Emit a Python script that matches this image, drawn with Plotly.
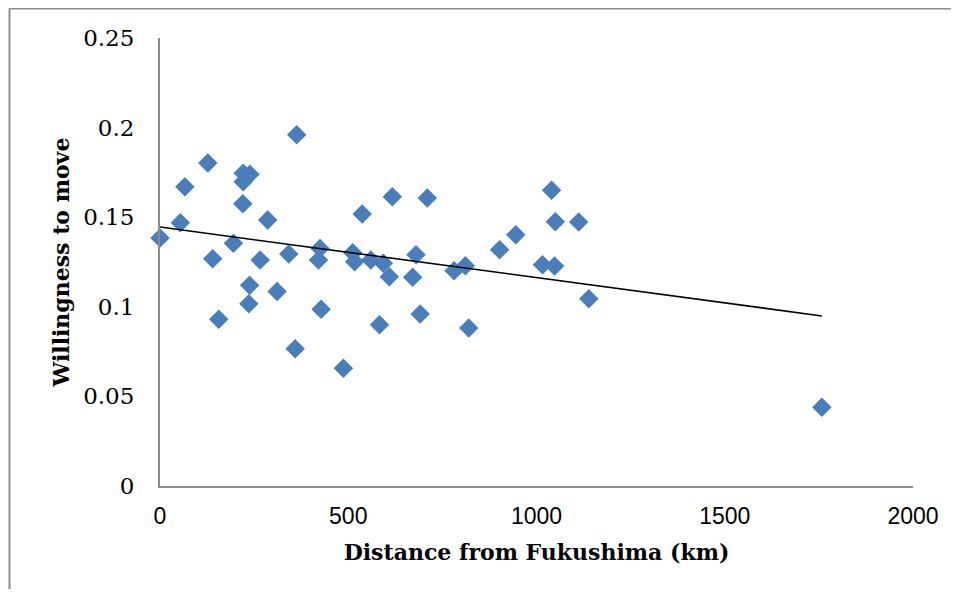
import plotly.graph_objects as go

# Distance from Fukushima (km)
distance_km = [0, 54, 66, 127, 140, 156, 195, 220, 221, 239, 221, 238, 236, 266,
               286, 311, 342, 363, 359, 425, 421, 428, 487, 512, 517, 537, 560,
               583, 593, 609, 617, 671, 680, 691, 710, 781, 811, 820, 902, 945,
               1016, 1040, 1048, 1050, 1112, 1139, 1758]
# Willingness to move
willingness = [0.1384, 0.1469, 0.1670, 0.1802, 0.1268, 0.0930, 0.1354, 0.1575,
               0.1745, 0.1739, 0.1698, 0.1120, 0.1017, 0.1261, 0.1484, 0.1086,
               0.1295, 0.1960, 0.0766, 0.1326, 0.1261, 0.0986, 0.0657, 0.1302,
               0.1252, 0.1518, 0.1261, 0.0900, 0.1243, 0.1168, 0.1614, 0.1165,
               0.1291, 0.0960, 0.1607, 0.1201, 0.1229, 0.0882, 0.1319, 0.1402,
               0.1235, 0.1650, 0.1228, 0.1475, 0.1473, 0.1045, 0.0439]

# Linear trend line end points (as drawn in the chart)
trend_x = [0, 1758]
trend_y = [0.1445, 0.0949]

x_ticks = [0, 500, 1000, 1500, 2000]
y_ticks = [0, 0.05, 0.1, 0.15, 0.2, 0.25]
y_tick_labels = ["0", "0.05", "0.1", "0.15", "0.2", "0.25"]

# page has an 8px body margin on every side, so the figure is drawn smaller
W, H = 943, 581
L, R, T, B = 152, 38, 30, 103

fig = go.Figure()
fig.add_trace(go.Scatter(
    x=distance_km, y=willingness, mode="markers",
    marker=dict(symbol="diamond", size=15, color="#4A7EBB", line=dict(width=0)),
    showlegend=False, cliponaxis=False,
))
fig.add_trace(go.Scatter(
    x=trend_x, y=trend_y, mode="lines",
    line=dict(color="black", width=1.6),
    showlegend=False,
))

pw = W - L - R
ph = H - T - B
fx0 = (1.5 - L) / pw
fy1 = (H - B - 0.5) / ph
frame = dict(color="#8C8C8C", width=2)
# outer chart frame: only top and left edges are within the picture
fig.add_shape(type="line", xref="paper", yref="paper",
              x0=fx0, x1=(W + 30 - L) / pw, y0=fy1, y1=fy1, line=frame)
fig.add_shape(type="line", xref="paper", yref="paper",
              x0=fx0, x1=fx0, y0=-(B + 30) / ph, y1=fy1, line=frame)

fig.update_layout(
    width=W, height=H,
    margin=dict(l=L, r=R, t=T, b=B, autoexpand=False),
    paper_bgcolor="white", plot_bgcolor="white",
    xaxis=dict(
        range=[0, 2000], tickvals=x_ticks, showgrid=False, zeroline=False,
        showline=True, linecolor="#8C8C8C", linewidth=2, ticks="",
        tickfont=dict(family="Liberation Sans", size=23, color="black"),
        ticklabelstandoff=8,
        title=dict(text="<b>Distance from Fukushima (km)</b>",
                   font=dict(family="DejaVu Serif", size=22, color="black"),
                   standoff=17),
    ),
    yaxis=dict(
        range=[0, 0.25], tickvals=y_ticks, ticktext=y_tick_labels,
        showgrid=False, zeroline=False,
        showline=True, linecolor="#8C8C8C", linewidth=2, ticks="",
        tickfont=dict(family="DejaVu Serif", size=23, color="black"),
        ticklabelstandoff=19,
        title=dict(text="<b>Willingness to move</b>",
                   font=dict(family="DejaVu Serif", size=22, color="black"),
                   standoff=7),
    ),
)

fig.write_html("out.html")
